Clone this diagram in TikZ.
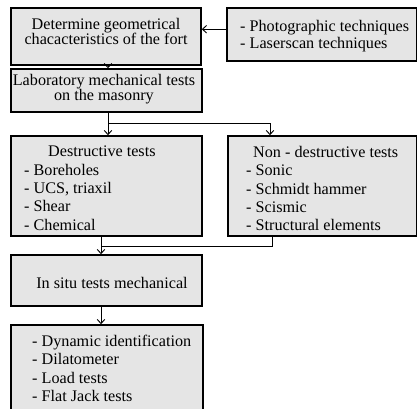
\documentclass[tikz,border=0pt]{standalone}
\usepackage{fontspec}
\setmainfont{Liberation Serif}
\usetikzlibrary{arrows.meta,positioning,calc,fit}
\definecolor{boxgray}{RGB}{229,229,229}

\begin{document}
\begin{tikzpicture}[x=0.03cm,y=-0.03cm,
    box/.style={draw=black,fill=boxgray,line width=1.4pt,inner sep=0pt},
    lbl/.style={inner sep=0pt,align=center,font=\fontsize{13.8}{12.8}\selectfont},
    lst/.style={inner sep=0pt,align=left,anchor=north west,font=\fontsize{13.8}{15.6}\selectfont},
    wire/.style={line width=0.8pt},
    link/.style={line width=0.8pt,-{Straight Barb[length=3.5pt,width=6.5pt]}}]
    \useasboundingbox (0,0) rectangle (417,408);
    \clip (0,0) rectangle (417,408);
    \node[box,fit={(11,8) (201,65)}] (geo) {};
    \node[box,fit={(227,8) (416.5,61)}] (photo) {};
    \node[box,fit={(11,69) (202,112)}] (lab) {};
    \node[box,fit={(11,136) (202,236)}] (dt) {};
    \node[box,fit={(228,136) (416.5,236)}] (nd) {};
    \node[box,fit={(11,255) (202,306)}] (insitu) {};
    \node[box,fit={(11,325) (203,420)}] (last) {};

    \node[lbl] (geotxt) at (106,31) {Determine geometrical\\chacacteristics of the fort};
    \node[lst,anchor=west,font=\fontsize{13.8}{15}\selectfont] (phototxt) at (240,36) {- Photographic techniques\\- Laserscan techniques};
    \node[lbl] (labtxt) at (104,89) {Laboratory mechanical tests\\on the masonry};
    \node[lst] (dttxt) at (24,146) {\hspace{0.72cm}Destructive tests\\- Boreholes\\- UCS, triaxil\\- Shear\\- Chemical};
    \node[lst] (ndtxt) at (246,146) {\hspace{0.21cm}Non - destructive tests\\- Sonic\\- Schmidt hammer\\- Scismic\\- Structural elements};
    \node[lbl] (insitutxt) at (112,283) {In situ tests mechanical};
    \node[lst] (lasttxt) at (32,335) {- Dynamic identification\\- Dilatometer\\- Load tests\\- Flat Jack tests};

    \coordinate (phin) at ([yshift=4.5pt]photo.west);
    \draw[link] (phin) -- (phin -| geo.east);
    \coordinate (split) at (108,123);
    \coordinate (splitR) at (270,123);
    \draw[link] (geo.south -| split) -- (lab.north -| split);
    \draw[wire] (lab.south -| split) -- (split) -- (splitR);
    \draw[link] (split) -- (split |- dt.north);
    \draw[link] (splitR) -- (splitR |- nd.north);
    \coordinate (join) at (101,246);
    \coordinate (joinR) at (272,246);
    \draw[wire] (nd.south -| joinR) -- (joinR) -- (join);
    \draw[link] (dt.south -| join) -- (insitu.north -| join);
    \draw[link] (insitu.south -| join) -- (last.north -| join);
\end{tikzpicture}
\end{document}
